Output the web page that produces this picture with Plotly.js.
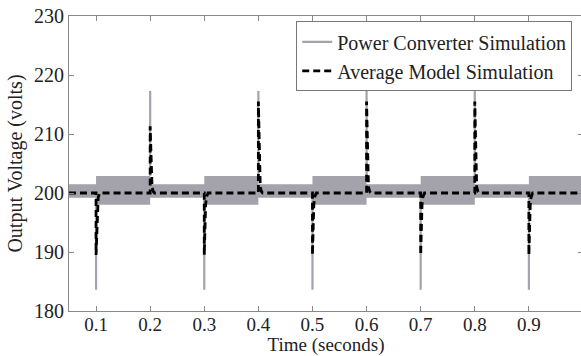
<!DOCTYPE html>
<html>
<head>
<meta charset="utf-8">
<script src="https://cdn.plot.ly/plotly-3.0.1.min.js"></script>
<style>
html,body{margin:0;padding:0;overflow:hidden;background:#fff;}
#chart{width:584px;height:356px;}
</style>
</head>
<body>
<div id="chart"></div>
<script>
// ---- Data ----
// Power converter ripple band, per load segment
const segStart   = [0.05, 0.1, 0.2, 0.3, 0.4, 0.5, 0.6, 0.7, 0.8, 0.9];
const segEnd     = [0.1, 0.2, 0.3, 0.4, 0.5, 0.6, 0.7, 0.8, 0.9, 1.0];
const rippleHigh = [201.5, 202.9, 201.5, 202.9, 201.5, 202.9, 201.5, 202.9, 201.5, 202.9];
const rippleLow  = [199.2, 198.0, 199.2, 198.0, 199.2, 198.0, 199.2, 198.0, 199.2, 198.0];

// Power converter transients (load steps)
const pcSpikeTime = [0.1, 0.2, 0.3, 0.4, 0.5, 0.6, 0.7, 0.8, 0.9];
const pcSpikeBase = [199.2, 202.9, 199.2, 202.9, 199.2, 202.9, 199.2, 202.9, 199.2];
const pcSpikePeak = [183.6, 217.3, 183.6, 217.3, 183.6, 217.3, 183.6, 217.3, 183.6];

// Average model simulation
const avgTime = [0.05,
  0.1, 0.1, 0.1025, 0.104, 0.107,
  0.2, 0.2, 0.2035, 0.206, 0.208,
  0.3, 0.3, 0.3025, 0.304, 0.307,
  0.4, 0.4, 0.4035, 0.406, 0.408,
  0.5, 0.5, 0.5025, 0.504, 0.507,
  0.6, 0.6, 0.6035, 0.606, 0.608,
  0.7, 0.7, 0.7025, 0.704, 0.707,
  0.8, 0.8, 0.8035, 0.806, 0.808,
  0.9, 0.9, 0.9025, 0.904, 0.907,
  1.0];
const avgVolt = [200,
  200, 189.5, 198.0, 199.3, 200,
  200, 211.3, 201.0, 200.2, 200,
  200, 189.5, 198.0, 199.3, 200,
  200, 215.5, 201.0, 200.2, 200,
  200, 189.5, 198.0, 199.3, 200,
  200, 215.5, 201.0, 200.2, 200,
  200, 189.5, 198.0, 199.3, 200,
  200, 215.5, 201.0, 200.2, 200,
  200, 189.5, 198.0, 199.3, 200,
  200];

const xTicks = [0.1, 0.2, 0.3, 0.4, 0.5, 0.6, 0.7, 0.8, 0.9];
const yTicks = [180, 190, 200, 210, 220, 230];

// ---- Build traces ----
const gray = 'rgb(164,163,171)';
const upX = [], upY = [], loX = [], loY = [];
for (let i = 0; i < segStart.length; i++) {
  upX.push(segStart[i], segEnd[i]); upY.push(rippleHigh[i], rippleHigh[i]);
  loX.push(segStart[i], segEnd[i]); loY.push(rippleLow[i], rippleLow[i]);
}
const spX = [], spY = [];
for (let i = 0; i < pcSpikeTime.length; i++) {
  spX.push(pcSpikeTime[i], pcSpikeTime[i], null);
  spY.push(pcSpikeBase[i], pcSpikePeak[i], null);
}

const traces = [
  {x: loX, y: loY, mode: 'lines', line: {width: 0, color: gray}, showlegend: false, hoverinfo: 'skip'},
  {x: upX, y: upY, mode: 'lines', line: {width: 0, color: gray}, fill: 'tonexty', fillcolor: gray, showlegend: false, hoverinfo: 'skip'},
  {x: spX, y: spY, mode: 'lines', line: {width: 2.2, color: gray}, name: 'Power Converter Simulation'},
  {x: avgTime, y: avgVolt, mode: 'lines', line: {width: 2.8, color: '#000', dash: '7px,4px'}, name: 'Average Model Simulation'}
];

const font = 'Liberation Serif, Times New Roman, serif';
const layout = {
  width: 584, height: 356,
  margin: {l: 69, r: 1, t: 16, b: 45},
  paper_bgcolor: '#fff', plot_bgcolor: '#fff',
  font: {family: font, size: 20, color: '#222'},
  showlegend: true,
  legend: {
    x: 0.979, y: 0.982, xanchor: 'right', yanchor: 'top',
    bgcolor: '#fff', bordercolor: '#777', borderwidth: 1,
    font: {family: font, size: 20, color: '#222'},
    traceorder: 'normal', tracegroupgap: 0, itemwidth: 30
  },
  xaxis: {
    range: [0.05, 1.0], tickvals: xTicks, ticktext: xTicks.map(v => v.toFixed(1)),
    ticks: 'inside', ticklen: 5, tickcolor: '#888', showline: true, linecolor: '#888', linewidth: 1,
    mirror: 'ticks', showgrid: false, zeroline: false, ticklabelstandoff: -4,
    tickfont: {family: font, size: 19, color: '#222'},
    title: {text: 'Time (seconds)', font: {family: font, size: 19, color: '#222'}, standoff: 0}
  },
  yaxis: {
    range: [180, 230], tickvals: yTicks,
    ticks: 'inside', ticklen: 5, tickcolor: '#888', showline: true, linecolor: '#888', linewidth: 1,
    mirror: 'ticks', showgrid: false, zeroline: false,
    tickfont: {family: font, size: 20, color: '#222'},
    title: {text: 'Output Voltage (volts)', font: {family: font, size: 20, color: '#222'}, standoff: 6}
  }
};

Plotly.newPlot('chart', traces, layout, {staticPlot: true, displayModeBar: false});
</script>
</body>
</html>
